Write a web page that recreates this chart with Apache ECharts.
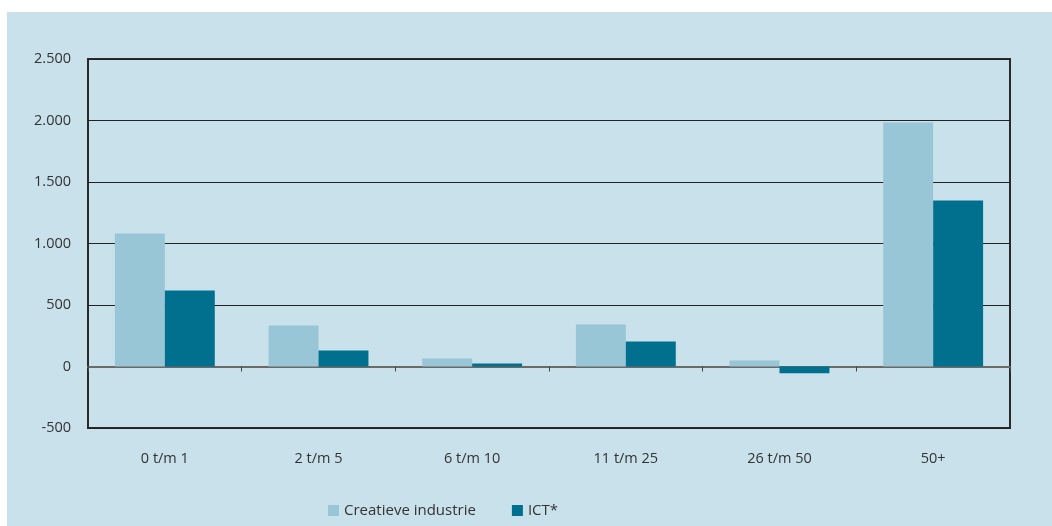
<!DOCTYPE html>
<html>
<head>
<meta charset="utf-8">
<script src="https://cdn.jsdelivr.net/npm/echarts@6/dist/echarts.min.js"></script>
<style>
html,body{margin:0;padding:0;background:#ffffff;}
#c{position:absolute;left:7px;top:12px;width:1045px;height:514px;}
</style>
</head>
<body>
<div id="c"></div>
<script>
const categories = ['0 t/m 1', '2 t/m 5', '6 t/m 10', '11 t/m 25', '26 t/m 50', '50+'];
const creatieve = [1081, 333, 65, 341, 49, 1984];
const ict = [618, 130, 24, 203, -54, 1350];
const seriesNames = ['Creatieve industrie', 'ICT*'];

const chart = echarts.init(document.getElementById('c'), null, {renderer: 'canvas'});
const font = '"Open Sans", sans-serif';
chart.setOption({
  backgroundColor: '#c9e1ea',
  animation: false,
  textStyle: {fontFamily: font},
  grid: {left: 81, top: 47, right: 42, bottom: 98, show: true, borderColor: '#2a2a2a', borderWidth: 2, backgroundColor: 'transparent'},
  legend: {
    bottom: 3, left: 316,
    itemWidth: 11, itemHeight: 11, itemGap: 36,
    icon: 'rect',
    textStyle: {fontFamily: font, fontSize: 15, color: '#333'},
    data: seriesNames
  },
  xAxis: {
    type: 'category',
    data: categories,
    axisLine: {onZero: true, lineStyle: {color: '#6a6a6a', width: 2}},
    axisTick: {show: true, length: 5, lineStyle: {color: '#444'}},
    axisLabel: {margin: 23, fontSize: 14.5, color: '#333', fontFamily: font},
    splitLine: {show: false}
  },
  yAxis: {
    type: 'value',
    min: -500, max: 2500, interval: 500,
    axisLine: {show: false},
    axisTick: {show: false},
    axisLabel: {
      margin: 17, fontSize: 14.5, color: '#333', fontFamily: font,
      formatter: v => v.toString().replace(/\B(?=(\d{3})+(?!\d))/g, '.')
    },
    splitLine: {show: true, lineStyle: {color: '#222', width: 1}}
  },
  series: [
    {name: seriesNames[0], type: 'bar', data: creatieve, barGap: '0%', barCategoryGap: '35%', itemStyle: {color: '#99c6d6'}},
    {name: seriesNames[1], type: 'bar', data: ict, barGap: '0%', barCategoryGap: '35%', itemStyle: {color: '#00708e'}}
  ]
});
</script>
</body>
</html>
